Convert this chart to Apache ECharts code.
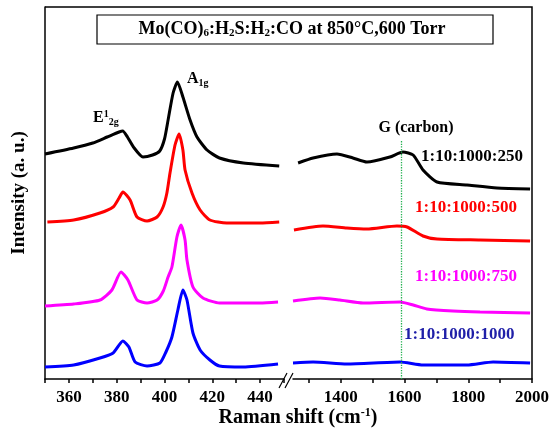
<!DOCTYPE html>
<html>
<head>
<meta charset="utf-8">
<script src="https://cdn.jsdelivr.net/npm/echarts@6/dist/echarts.min.js"></script>
<style>
  html, body { margin: 0; padding: 0; background: #fff; }
  #chart { width: 553px; height: 431px; }
</style>
</head>
<body>
<div id="chart"></div>
<script>
// broken x axis: low range (MoS2 modes) and high range (carbon G band)
const lowTicks = [350, 360, 370, 380, 390, 400, 410, 420, 430, 440, 450]
const lowLabels = [360, 380, 400, 420, 440]
const highTicks = [1300, 1400, 1500, 1600, 1700, 1800, 1900, 2000]
const highLabels = [1400, 1600, 1800, 2000]
const gBand = 1590

// [raman shift, offset intensity (a.u.)]
const s250Low = [[350, 225], [362, 231], [370, 236], [376, 242], [381, 247], [382.5, 248], [384.5, 242], [387, 232], [391, 222], [395, 224], [398, 228], [400, 240], [401.5, 259], [403.6, 286], [405.4, 297], [407.7, 282], [410.7, 259], [413.6, 242], [417.8, 229], [423, 221], [433, 216], [448, 213]]
const s250High = [[1266, 216], [1313, 221], [1388, 225], [1438, 221], [1482, 217], [1554, 222], [1595, 227], [1627, 224], [1658, 209], [1702, 197], [1796, 194], [1890, 191], [1994, 190]]

const s500Low = [[351, 157], [362, 159], [373, 166], [378.5, 172], [381, 181], [382.6, 187], [385.6, 179], [388.5, 162], [392.7, 158], [396.9, 162], [399.4, 172], [401, 186], [402.3, 206], [404.4, 234], [406.1, 245], [407.7, 229], [408.6, 209], [411.5, 186], [414.9, 169], [419, 159], [426, 156], [440, 156], [448, 157]]
const s500High = [[1253, 149], [1344, 153], [1419, 151], [1482, 150], [1576, 153], [1608, 152], [1658, 143], [1702, 140], [1837, 139], [1994, 138]]

const s750Low = [[350, 73], [362, 75], [373, 79], [378, 89], [381.8, 107], [384.7, 99], [388.5, 79], [392.7, 76], [396.9, 79], [399.5, 88], [401.5, 102], [403.1, 112], [405.2, 142], [406.9, 154], [408.6, 139], [409.4, 119], [411.9, 92], [416.1, 81], [423, 76], [440, 76], [447.5, 77]]
const s750High = [[1250, 78], [1335, 81], [1397, 79], [1470, 76], [1586, 77], [1627, 74], [1670, 70], [1752, 68], [1837, 67], [1994, 66]]

const s1000Low = [[350, 12], [362, 14], [373, 21], [378.5, 26], [382.6, 38], [385.1, 32], [387.7, 17], [392.7, 13], [398.1, 16], [400.6, 27], [403.1, 42], [405.6, 69], [407.7, 89], [409.4, 79], [411.9, 46], [414.9, 29], [419, 19], [423, 13], [433, 12], [447.5, 15]]
const s1000High = [[1250, 16], [1313, 17], [1419, 15], [1586, 17], [1658, 14], [1796, 14], [1878, 17], [1994, 16]]

const serif = '"Liberation Serif", "DejaVu Serif", serif'

const chart = echarts.init(document.getElementById('chart'))

const lineSeries = (name, color, xi, data) => ({
  name,
  type: 'line',
  xAxisIndex: xi,
  yAxisIndex: xi,
  data,
  smooth: 0.2,
  symbol: 'none',
  lineStyle: { color, width: 3 },
  animation: false,
})

const xAxisBase = (gi, min, max, ticks, labels) => ({
  type: 'value',
  gridIndex: gi,
  min,
  max,
  axisLine: { onZero: false, lineStyle: { color: '#000', width: 1.5 } },
  axisTick: { customValues: ticks, length: 4, lineStyle: { color: '#000', width: 1.5 } },
  axisLabel: {
    customValues: labels,
    formatter: v => String(v),
    color: '#000',
    fontFamily: serif,
    fontWeight: 'bold',
    fontSize: 17,
    margin: 10,
  },
  splitLine: { show: false },
})

const g1Series = lineSeries('1:10:1000:250 high', '#000', 1, s250High)
g1Series.markLine = {
  silent: true,
  symbol: 'none',
  label: { show: false },
  lineStyle: { color: '#22b04f', type: 'dotted', width: 1.3, opacity: 1 },
  emphasis: { disabled: true },
  data: [[{ coord: [gBand, 0] }, { coord: [gBand, 239] }]],
}

const labelStyle = (text, fill) => ({
  text, verticalAlign: 'middle', fontFamily: serif, fontWeight: 'bold', fontSize: 17, fill,
})

chart.setOption({
  animation: false,
  grid: [
    { left: 45, top: 7, width: 239, bottom: 52 },
    { left: 293, top: 7, right: 21, bottom: 52 },
  ],
  xAxis: [
    xAxisBase(0, 350, 450, lowTicks, lowLabels),
    xAxisBase(1, 1250, 2000, highTicks, highLabels),
  ],
  yAxis: [
    {
      type: 'value',
      gridIndex: 0,
      min: 0,
      max: 372,
      axisLine: { show: true, lineStyle: { color: '#000', width: 1.5 } },
      axisTick: { show: false },
      axisLabel: { show: false },
      splitLine: { show: false },
      name: 'Intensity (a. u.)',
      nameLocation: 'middle',
      nameGap: 16,
      nameTextStyle: { color: '#000', fontFamily: serif, fontWeight: 'bold', fontSize: 19 },
    },
    { type: 'value', gridIndex: 1, min: 0, max: 372, show: false },
  ],
  series: [
    lineSeries('1:10:1000:250', '#000', 0, s250Low),
    g1Series,
    lineSeries('1:10:1000:500', '#ff0000', 0, s500Low),
    lineSeries('1:10:1000:500 high', '#ff0000', 1, s500High),
    lineSeries('1:10:1000:750', '#ff00ff', 0, s750Low),
    lineSeries('1:10:1000:750 high', '#ff00ff', 1, s750High),
    lineSeries('1:10:1000:1000', '#0000ff', 0, s1000Low),
    lineSeries('1:10:1000:1000 high', '#0000ff', 1, s1000High),
  ],
  graphic: [
    // frame top + right
    { type: 'polyline', shape: { points: [[45, 7], [532, 7], [532, 379]] }, style: { stroke: '#000', lineWidth: 1.5, fill: null } },
    // axis break marks
    { type: 'line', shape: { x1: 279, y1: 388, x2: 287, y2: 373 }, style: { stroke: '#000', lineWidth: 1.2 } },
    { type: 'line', shape: { x1: 285, y1: 388, x2: 293, y2: 373 }, style: { stroke: '#000', lineWidth: 1.2 } },
    // title box
    { type: 'rect', shape: { x: 97, y: 15, width: 396, height: 29 }, style: { stroke: '#000', lineWidth: 1.2, fill: '#fff' } },
    {
      type: 'text', x: 292, y: 29,
      style: {
        text: 'Mo(CO){s|6}:H{s|2}S:H{s|2}:CO at 850°C,600 Torr',
        align: 'center', verticalAlign: 'middle',
        fontFamily: serif, fontWeight: 'bold', fontSize: 18, fill: '#000',
        rich: { s: { fontFamily: serif, fontWeight: 'bold', fontSize: 11, padding: [9, 0, 0, 0] } },
      },
    },
    {
      type: 'text', x: 93, y: 118,
      style: {
        text: 'E{sup|1}{sub|2g}',
        verticalAlign: 'middle',
        fontFamily: serif, fontWeight: 'bold', fontSize: 16, fill: '#000',
        rich: {
          sup: { fontFamily: serif, fontWeight: 'bold', fontSize: 10, padding: [0, 0, 8, 0] },
          sub: { fontFamily: serif, fontWeight: 'bold', fontSize: 10, padding: [9, 0, 0, 0] },
        },
      },
    },
    {
      type: 'text', x: 187, y: 79,
      style: {
        text: 'A{sub|1g}',
        verticalAlign: 'middle',
        fontFamily: serif, fontWeight: 'bold', fontSize: 16, fill: '#000',
        rich: { sub: { fontFamily: serif, fontWeight: 'bold', fontSize: 10, padding: [9, 0, 0, 0] } },
      },
    },
    {
      type: 'text', x: 416, y: 128,
      style: { text: 'G (carbon)', align: 'center', verticalAlign: 'middle', fontFamily: serif, fontWeight: 'bold', fontSize: 16, fill: '#000' },
    },
    { type: 'text', x: 421, y: 157, style: labelStyle('1:10:1000:250', '#000') },
    { type: 'text', x: 415, y: 208, style: labelStyle('1:10:1000:500', '#ff0000') },
    { type: 'text', x: 415, y: 277, style: labelStyle('1:10:1000:750', '#ff00ff') },
    { type: 'text', x: 404, y: 335, style: labelStyle('1:10:1000:1000', '#1f1fa8') },
    // x axis name spanning both panels
    {
      type: 'text', x: 298, y: 418,
      style: {
        text: 'Raman shift (cm{sup|-1})',
        align: 'center', verticalAlign: 'middle',
        fontFamily: serif, fontWeight: 'bold', fontSize: 20, fill: '#000',
        rich: { sup: { fontFamily: serif, fontWeight: 'bold', fontSize: 12, padding: [0, 0, 10, 0] } },
      },
    },
  ],
})
</script>
</body>
</html>
